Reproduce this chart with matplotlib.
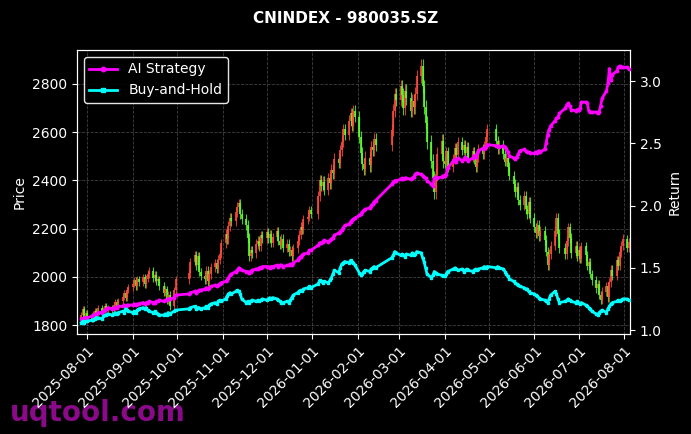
import matplotlib
matplotlib.use("Agg")
import matplotlib.pyplot as plt
import matplotlib.dates as mdates
import numpy as np
import pandas as pd

# Trading calendar (weekdays minus Chinese market holidays)
holidays = pd.to_datetime([
    "2025-10-01", "2025-10-02", "2025-10-03", "2025-10-06", "2025-10-07", "2025-10-08",
    "2026-01-01", "2026-01-02",
    "2026-02-16", "2026-02-17", "2026-02-18", "2026-02-19", "2026-02-20", "2026-02-23",
    "2026-04-06", "2026-05-01", "2026-05-04", "2026-05-05", "2026-06-19",
])

# Daily close of the index (one row per month)
close = [
    1842, 1868, 1835, 1851,
    1838, 1825, 1847, 1860, 1852, 1871, 1858, 1864, 1879, 1868, 1873, 1860, 1882, 1895, 1878, 1901, 1918, 1935, 1912, 1947, 1958,
    1972, 1985, 1961, 1990, 1978, 1998, 1970, 1992, 2012, 2025, 1995, 2008, 1983, 1990, 1962, 1935, 1948, 1902, 1925, 1878, 1945, 1990,
    2015, 2062, 2090, 2048, 2085, 2020, 2003, 1990, 2025, 1982, 2010, 2040, 2058, 2032, 2071, 2095, 2140,
    2178, 2155, 2210, 2245, 2230, 2268, 2290, 2305, 2262, 2240, 2215, 2160, 2085, 2110, 2098, 2135, 2150, 2128, 2172, 2160,
    2185, 2160, 2178, 2142, 2165, 2190, 2150, 2132, 2158, 2120, 2138, 2105, 2112, 2085, 2118, 2150, 2175, 2208, 2195, 2238, 2250, 2276, 2262,
    2335, 2402, 2378, 2395, 2362, 2410, 2388, 2445, 2430, 2490, 2472, 2525, 2560, 2612, 2590, 2648, 2680, 2625, 2690, 2665,
    2580, 2512, 2470, 2448, 2495, 2462, 2540, 2528, 2570, 2545, 2610, 2690, 2760, 2735,
    2790, 2755, 2700, 2772, 2740, 2690, 2730, 2705, 2760, 2832, 2875, 2790, 2705, 2640, 2560, 2480, 2410, 2350, 2425, 2510, 2565, 2480,
    2470, 2520, 2455, 2490, 2535, 2505, 2560, 2525, 2548, 2512, 2538, 2495, 2520, 2488, 2455, 2498, 2530, 2508, 2545, 2580, 2612,
    2565, 2530, 2548, 2510, 2478, 2492, 2455, 2420, 2385, 2350, 2372, 2320, 2298, 2335, 2280, 2262, 2310, 2245,
    2205, 2180, 2215, 2168, 2190, 2152, 2105, 2048, 2095, 2130, 2190, 2245, 2178, 2120, 2095, 2148, 2205, 2160, 2098, 2130, 2085,
    2110, 2075, 2128, 2090, 2045, 2060, 2012, 1985, 1952, 1970, 1925, 1905, 1938, 1962, 1915, 1978, 2030, 2005, 2068, 2045, 2102, 2130, 2158,
    2120, 2145,
]
first_open = 1830

# typical intraday wick beyond the candle body, per month (Jul-25 .. Aug-26)
wick_by_month = [12, 12, 15, 18, 20, 18, 22, 25, 28, 20, 20, 20, 18, 15]

# Cumulative return of the AI strategy
strategy = [
    1.09, 1.09, 1.10, 1.10,
    1.10, 1.11, 1.12, 1.12, 1.13, 1.14, 1.14, 1.15, 1.16, 1.17, 1.18, 1.17, 1.18, 1.18, 1.18, 1.19, 1.19, 1.20, 1.19, 1.20, 1.20,
    1.20, 1.21, 1.20, 1.21, 1.21, 1.22, 1.21, 1.22, 1.22, 1.23, 1.22, 1.22, 1.23, 1.23, 1.24, 1.23, 1.24, 1.24, 1.25, 1.25, 1.26, 1.28,
    1.29, 1.30, 1.31, 1.30, 1.31, 1.32, 1.32, 1.33, 1.34, 1.33, 1.34, 1.35, 1.36, 1.35, 1.36, 1.37, 1.38,
    1.39, 1.40, 1.42, 1.44, 1.45, 1.47, 1.48, 1.50, 1.49, 1.48, 1.47, 1.47, 1.46, 1.47, 1.48, 1.49, 1.49, 1.50, 1.50, 1.51,
    1.51, 1.51, 1.50, 1.51, 1.51, 1.52, 1.51, 1.52, 1.52, 1.51, 1.52, 1.52, 1.53, 1.52, 1.54, 1.56, 1.58, 1.59, 1.60, 1.61, 1.62, 1.64, 1.64,
    1.68, 1.70, 1.70, 1.71, 1.72, 1.71, 1.72, 1.73, 1.74, 1.76, 1.78, 1.79, 1.80, 1.82, 1.84, 1.85, 1.87, 1.88, 1.89, 1.90,
    1.92, 1.93, 1.95, 1.96, 1.97, 1.98, 2.00, 2.01, 2.03, 2.04, 2.17, 2.19, 2.20, 2.20,
    2.21, 2.22, 2.21, 2.22, 2.22, 2.21, 2.22, 2.23, 2.25, 2.26, 2.25, 2.24, 2.23, 2.22, 2.20, 2.17, 2.16, 2.22, 2.23, 2.22, 2.23, 2.24,
    2.24, 2.25, 2.30, 2.36, 2.37, 2.35, 2.38, 2.36, 2.37, 2.39, 2.37, 2.36, 2.38, 2.40, 2.39, 2.42, 2.44, 2.46, 2.45, 2.47, 2.49,
    2.48, 2.48, 2.47, 2.48, 2.47, 2.45, 2.43, 2.40, 2.38, 2.37, 2.39, 2.41, 2.44, 2.45, 2.44, 2.43, 2.43, 2.42,
    2.42, 2.43, 2.42, 2.44, 2.43, 2.45, 2.50, 2.57, 2.61, 2.64, 2.68, 2.70, 2.71, 2.74, 2.78, 2.81, 2.82, 2.80, 2.77, 2.76, 2.77,
    2.77, 2.78, 2.83, 2.83, 2.82, 2.76, 2.75, 2.75, 2.75, 2.74, 2.75, 2.80, 2.86, 2.92, 2.98, 3.10, 3.01, 3.05, 3.08, 3.11, 3.12, 3.11, 3.11,
    3.11, 3.10,
]

# Cumulative return of buy-and-hold
buy_hold = [
    1.06, 1.07, 1.06, 1.07,
    1.07, 1.08, 1.08, 1.09, 1.10, 1.10, 1.09, 1.11, 1.12, 1.12, 1.13, 1.12, 1.13, 1.14, 1.13, 1.14, 1.15, 1.14, 1.17, 1.16, 1.15,
    1.14, 1.15, 1.14, 1.16, 1.17, 1.18, 1.17, 1.18, 1.16, 1.15, 1.14, 1.15, 1.14, 1.13, 1.12, 1.12, 1.13, 1.12, 1.14, 1.13, 1.15, 1.16,
    1.17, 1.18, 1.19, 1.17, 1.18, 1.18, 1.17, 1.18, 1.19, 1.18, 1.20, 1.21, 1.22, 1.21, 1.23, 1.24, 1.23,
    1.25, 1.27, 1.29, 1.30, 1.29, 1.31, 1.32, 1.31, 1.29, 1.25, 1.22, 1.23, 1.22, 1.23, 1.24, 1.23, 1.24, 1.23, 1.24, 1.25,
    1.24, 1.25, 1.26, 1.25, 1.26, 1.25, 1.24, 1.23, 1.22, 1.22, 1.23, 1.22, 1.24, 1.26, 1.28, 1.30, 1.31, 1.32, 1.31, 1.33, 1.34, 1.35, 1.34,
    1.37, 1.40, 1.39, 1.38, 1.39, 1.38, 1.40, 1.42, 1.45, 1.48, 1.46, 1.50, 1.53, 1.54, 1.55, 1.54, 1.56, 1.55, 1.54, 1.52,
    1.46, 1.44, 1.45, 1.47, 1.48, 1.47, 1.49, 1.50, 1.51, 1.50, 1.58, 1.60, 1.63, 1.62,
    1.60, 1.61, 1.60, 1.59, 1.61, 1.60, 1.62, 1.60, 1.61, 1.63, 1.62, 1.58, 1.55, 1.50, 1.45, 1.42, 1.44, 1.47, 1.46, 1.45, 1.44, 1.43,
    1.43, 1.45, 1.47, 1.49, 1.50, 1.49, 1.48, 1.49, 1.47, 1.48, 1.49, 1.48, 1.47, 1.48, 1.49, 1.48, 1.49, 1.50, 1.51, 1.50, 1.51,
    1.50, 1.51, 1.50, 1.49, 1.47, 1.45, 1.43, 1.41, 1.39, 1.38, 1.37, 1.36, 1.35, 1.34, 1.33, 1.33, 1.31, 1.30,
    1.29, 1.28, 1.27, 1.26, 1.25, 1.24, 1.23, 1.22, 1.25, 1.28, 1.31, 1.29, 1.25, 1.22, 1.23, 1.24, 1.25, 1.24, 1.23, 1.22, 1.23,
    1.22, 1.21, 1.22, 1.20, 1.19, 1.18, 1.17, 1.15, 1.13, 1.12, 1.14, 1.15, 1.16, 1.14, 1.17, 1.19, 1.21, 1.22, 1.23, 1.24, 1.23, 1.24, 1.25,
    1.25, 1.24,
]

days = pd.bdate_range("2025-07-28", "2026-08-31")
days = days[~days.isin(holidays)]
n = min(len(close), len(strategy), len(buy_hold))
dates = days[:n]
close = np.array(close[:n], dtype=float)
opens = np.r_[first_open, close[:-1]]
strategy = np.array(strategy[:n])
buy_hold = np.array(buy_hold[:n])

month_idx = (dates.year - 2025) * 12 + dates.month - 7
wick = np.array(wick_by_month)[month_idx]

plt.style.use("dark_background")
fig = plt.figure(figsize=(6.91, 4.34), dpi=100)
ax = fig.add_axes([0.1114, 0.2304, 0.8003, 0.6544])
ax2 = ax.twinx()

# candles: red up, green down
up = close >= opens
colors = np.where(up, "#ff4a3d", "#5cff2e")
lo = np.minimum(opens, close)
hi = np.maximum(opens, close)
ax.vlines(dates, lo - wick, hi + wick, colors=colors, linewidth=0.8, alpha=0.8, zorder=2)
ax.vlines(dates, lo, hi, colors=colors, linewidth=1.5, alpha=0.85, zorder=2)

ax2.plot(dates, strategy, color="magenta", lw=2, marker="o", markersize=1.8,
         label="AI Strategy", zorder=3)
ax2.plot(dates, buy_hold, color="cyan", lw=2, marker="s", markersize=1.8,
         label="Buy-and-Hold", zorder=3)

ax.set_xlim(pd.Timestamp("2025-07-25"), pd.Timestamp("2026-08-05"))
ax.set_ylim(1763, 2941)
ax2.set_ylim(0.968, 3.249)
ax.set_yticks([1800, 2000, 2200, 2400, 2600, 2800])
ax2.set_yticks([1.0, 1.5, 2.0, 2.5, 3.0])

ax.xaxis.set_major_locator(mdates.MonthLocator())
ax.xaxis.set_major_formatter(mdates.DateFormatter("%Y-%m-%d"))
plt.setp(ax.get_xticklabels(), rotation=45, ha="right", rotation_mode="anchor")

ax.grid(True, color="gray", linestyle="--", linewidth=0.6, alpha=0.5)
ax.set_ylabel("Price")
ax2.set_ylabel("Return")
for sp in ax2.spines.values():
    sp.set_color("white")

leg = ax2.legend(loc="upper left", facecolor="black", edgecolor="white",
                 fontsize=10, markerscale=1.8)
leg.get_frame().set_alpha(0.9)

fig.suptitle("CNINDEX - 980035.SZ", fontsize=11, fontweight="bold", y=0.975)
fig.text(0.014, 0.03, "uqtool.com", fontsize=20, fontweight="bold",
         color="#8a0a8a", zorder=-1)

fig.savefig("out.png", dpi=100, facecolor="black")
